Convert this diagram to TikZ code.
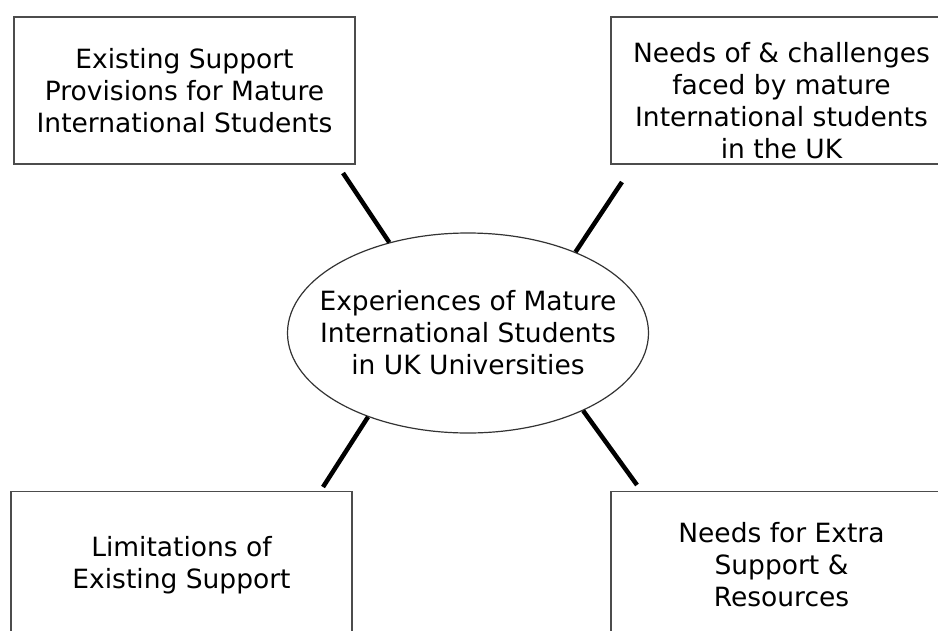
\documentclass[tikz,border=0pt]{standalone}
\usepackage{fontspec}
\setmainfont{DejaVu Sans}
\usetikzlibrary{shapes.geometric}
\tikzset{
  topicbox/.style={draw=black!70, line width=1.5pt, minimum width=341pt,
    minimum height=147pt, align=center, inner sep=0pt,
    font=\fontsize{26.5}{32}\selectfont},
  hub/.style={ellipse, draw=black!80, line width=1.2pt, minimum width=361pt,
    minimum height=200pt, align=center, inner xsep=-30pt, inner ysep=0pt,
    font=\fontsize{26.5}{32}\selectfont},
  spoke/.style={line width=4.5pt}
}

\begin{document}
\begin{tikzpicture}[x=1pt,y=-1pt]
  \useasboundingbox (0,0) rectangle (938,630);
  \clip (0,0) rectangle (938,630);
  % centre topic
  \node[hub] (exp) at (468,333) {Experiences of Mature\\International Students\\in UK Universities};
  % the four surrounding boxes
  \node[topicbox] (prov) at (184.5,90.5) {Existing Support\\Provisions for Mature\\International Students};
  \node[topicbox] (needs) at (781.5,90.5) {\rule{0pt}{40pt}Needs of \& challenges\\faced by mature\\International students\\in the UK};
  \node[topicbox] (limits) at (181.5,565) {Limitations of\\Existing Support};
  \node[topicbox] (extra) at (781.5,565) {Needs for Extra\\Support \&\\Resources};
  % spoke ends near the boxes
  \coordinate (provend) at (343,173);
  \coordinate (needsend) at (622,182);
  \coordinate (limitsend) at (323,487);
  \coordinate (extraend) at (637,485);
  \draw[spoke] (exp.131) -- (provend);
  \draw[spoke] (exp.37) -- (needsend);
  \draw[spoke] (exp.220) -- (limitsend);
  \draw[spoke] (exp.326) -- (extraend);
\end{tikzpicture}
\end{document}
